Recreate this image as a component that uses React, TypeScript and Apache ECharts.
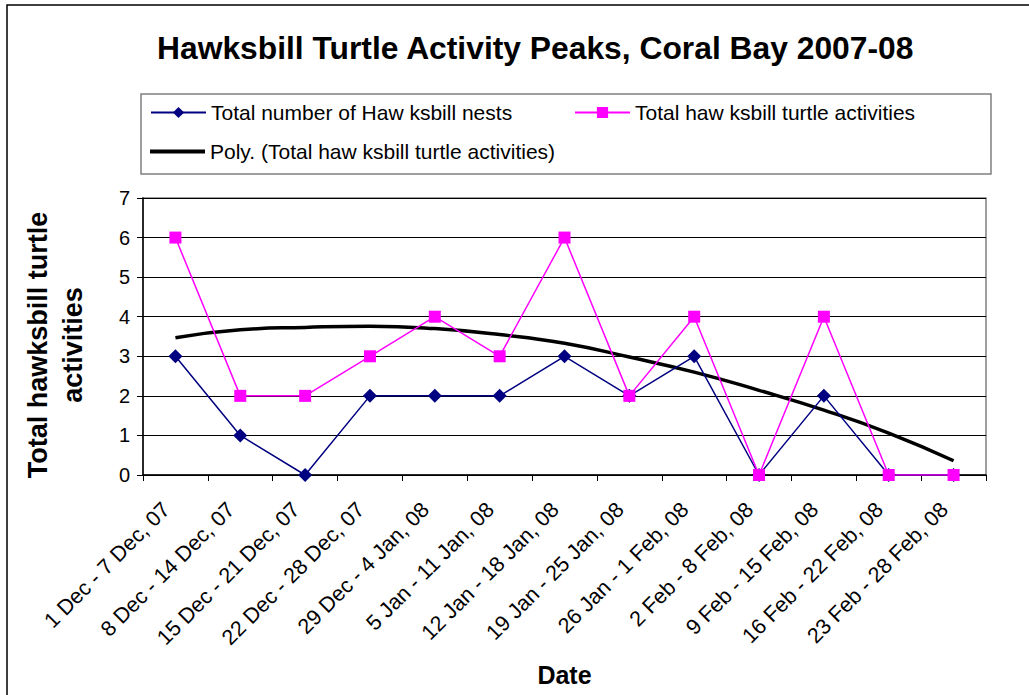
import React, { useEffect, useRef } from "react";
import * as echarts from "echarts";

const categories = [
  "1 Dec - 7 Dec, 07",
  "8 Dec - 14 Dec, 07",
  "15 Dec - 21 Dec, 07",
  "22 Dec - 28 Dec, 07",
  "29 Dec - 4 Jan, 08",
  "5 Jan - 11 Jan, 08",
  "12 Jan - 18 Jan, 08",
  "19 Jan - 25 Jan, 08",
  "26 Jan - 1 Feb, 08",
  "2 Feb - 8 Feb, 08",
  "9 Feb - 15 Feb, 08",
  "16 Feb - 22 Feb, 08",
  "23 Feb - 28 Feb, 08",
];
const nests = [3, 1, 0, 2, 2, 2, 3, 2, 3, 0, 2, 0, 0];
const activities = [6, 2, 2, 3, 4, 3, 6, 2, 4, 0, 4, 0, 0];
const trend = [3.47, 3.67, 3.73, 3.76, 3.7, 3.55, 3.33, 2.98, 2.6, 2.14, 1.64, 1.06, 0.36];

const nestsName = "Total number of Haw ksbill nests";
const actName = "Total haw ksbill turtle activities";
const polyName = "Poly. (Total haw ksbill turtle activities)";
const yName = "Total hawksbill turtle\nactivities";

const FONT = "Liberation Sans, Arial, sans-serif";

export default function App() {
  const ref = useRef<HTMLDivElement>(null);
  useEffect(() => {
    document.body.style.margin = "0";
    const chart = echarts.init(ref.current!, null, { renderer: "svg" });
    const legendText = { fontFamily: FONT, fontSize: 21, color: "#000" };
    chart.setOption({
      animation: false,
      backgroundColor: "#fff",
      textStyle: { fontFamily: FONT },
      title: {
        text: "Hawksbill Turtle Activity Peaks, Coral Bay 2007-08",
        left: 157,
        top: 32,
        padding: 0,
        textStyle: { fontFamily: FONT, fontSize: 31.8, fontWeight: "bold", color: "#000" },
      },
      graphic: [
        {
          type: "rect",
          shape: { x: 7, y: 5, width: 1040, height: 720 },
          style: { fill: "none", stroke: "#000", lineWidth: 1.5 },
          silent: true,
        },
        {
          type: "rect",
          shape: { x: 141, y: 94, width: 850, height: 80 },
          style: { fill: "none", stroke: "#808080", lineWidth: 1.5 },
          silent: true,
        },
        {
          type: "text",
          x: 55,
          y: 345,
          rotation: Math.PI / 2,
          silent: true,
          style: {
            text: yName,
            font: "bold 27px " + FONT,
            fill: "#000",
            align: "center",
            verticalAlign: "middle",
            lineHeight: 35,
          },
        },
      ],
      legend: [
        {
          data: [nestsName],
          left: 150,
          top: 102,
          padding: 0,
          itemWidth: 55,
          itemHeight: 14,
          textStyle: legendText,
        },
        {
          data: [actName],
          left: 574,
          top: 102,
          padding: 0,
          itemWidth: 55,
          itemHeight: 14,
          textStyle: legendText,
        },
        {
          data: [{ name: polyName, icon: "rect" }],
          left: 150,
          top: 141,
          padding: 0,
          itemWidth: 55,
          itemHeight: 4,
          textStyle: legendText,
        },
      ],
      grid: {
        left: 143,
        right: 43,
        top: 198,
        bottom: 220,
        show: true,
        borderColor: "#808080",
        borderWidth: 1.5,
        backgroundColor: "#fff",
      },
      xAxis: {
        type: "category",
        data: categories,
        boundaryGap: true,
        name: "Date",
        nameLocation: "middle",
        nameGap: 187,
        nameTextStyle: { fontFamily: FONT, fontSize: 25, fontWeight: "bold", color: "#000" },
        axisLine: { lineStyle: { color: "#000", width: 1.5 } },
        axisTick: { show: true, alignWithLabel: false, length: 6, lineStyle: { color: "#000" } },
        axisLabel: {
          rotate: 45,
          interval: 0,
          margin: 22,
          padding: [0, 13, 0, 0],
          fontFamily: FONT,
          fontSize: 21.5,
          color: "#000",
        },
      },
      yAxis: {
        type: "value",
        min: 0,
        max: 7,
        interval: 1,
        axisLine: { show: true, lineStyle: { color: "#000", width: 1.5 } },
        axisTick: { show: true, length: 6, lineStyle: { color: "#000" } },
        axisLabel: { margin: 13, fontFamily: FONT, fontSize: 20, color: "#000" },
        splitLine: { show: true, lineStyle: { color: "#000", width: 1 } },
      },
      series: [
        {
          name: nestsName,
          type: "line",
          data: nests,
          symbol: "diamond",
          symbolSize: 14,
          itemStyle: { color: "#000080" },
          lineStyle: { color: "#000080", width: 1.5 },
          z: 3,
        },
        {
          name: actName,
          type: "line",
          data: activities,
          symbol: "rect",
          symbolSize: 12,
          itemStyle: { color: "#FF00FF" },
          lineStyle: { color: "#FF00FF", width: 1.5 },
          z: 4,
        },
        {
          name: polyName,
          type: "line",
          data: trend,
          symbol: "none",
          smooth: true,
          itemStyle: { color: "#000" },
          lineStyle: { color: "#000", width: 3.5 },
          z: 2,
        },
      ],
    });
    return () => chart.dispose();
  }, []);
  return <div ref={ref} style={{ width: 1029, height: 695 }} />;
}
